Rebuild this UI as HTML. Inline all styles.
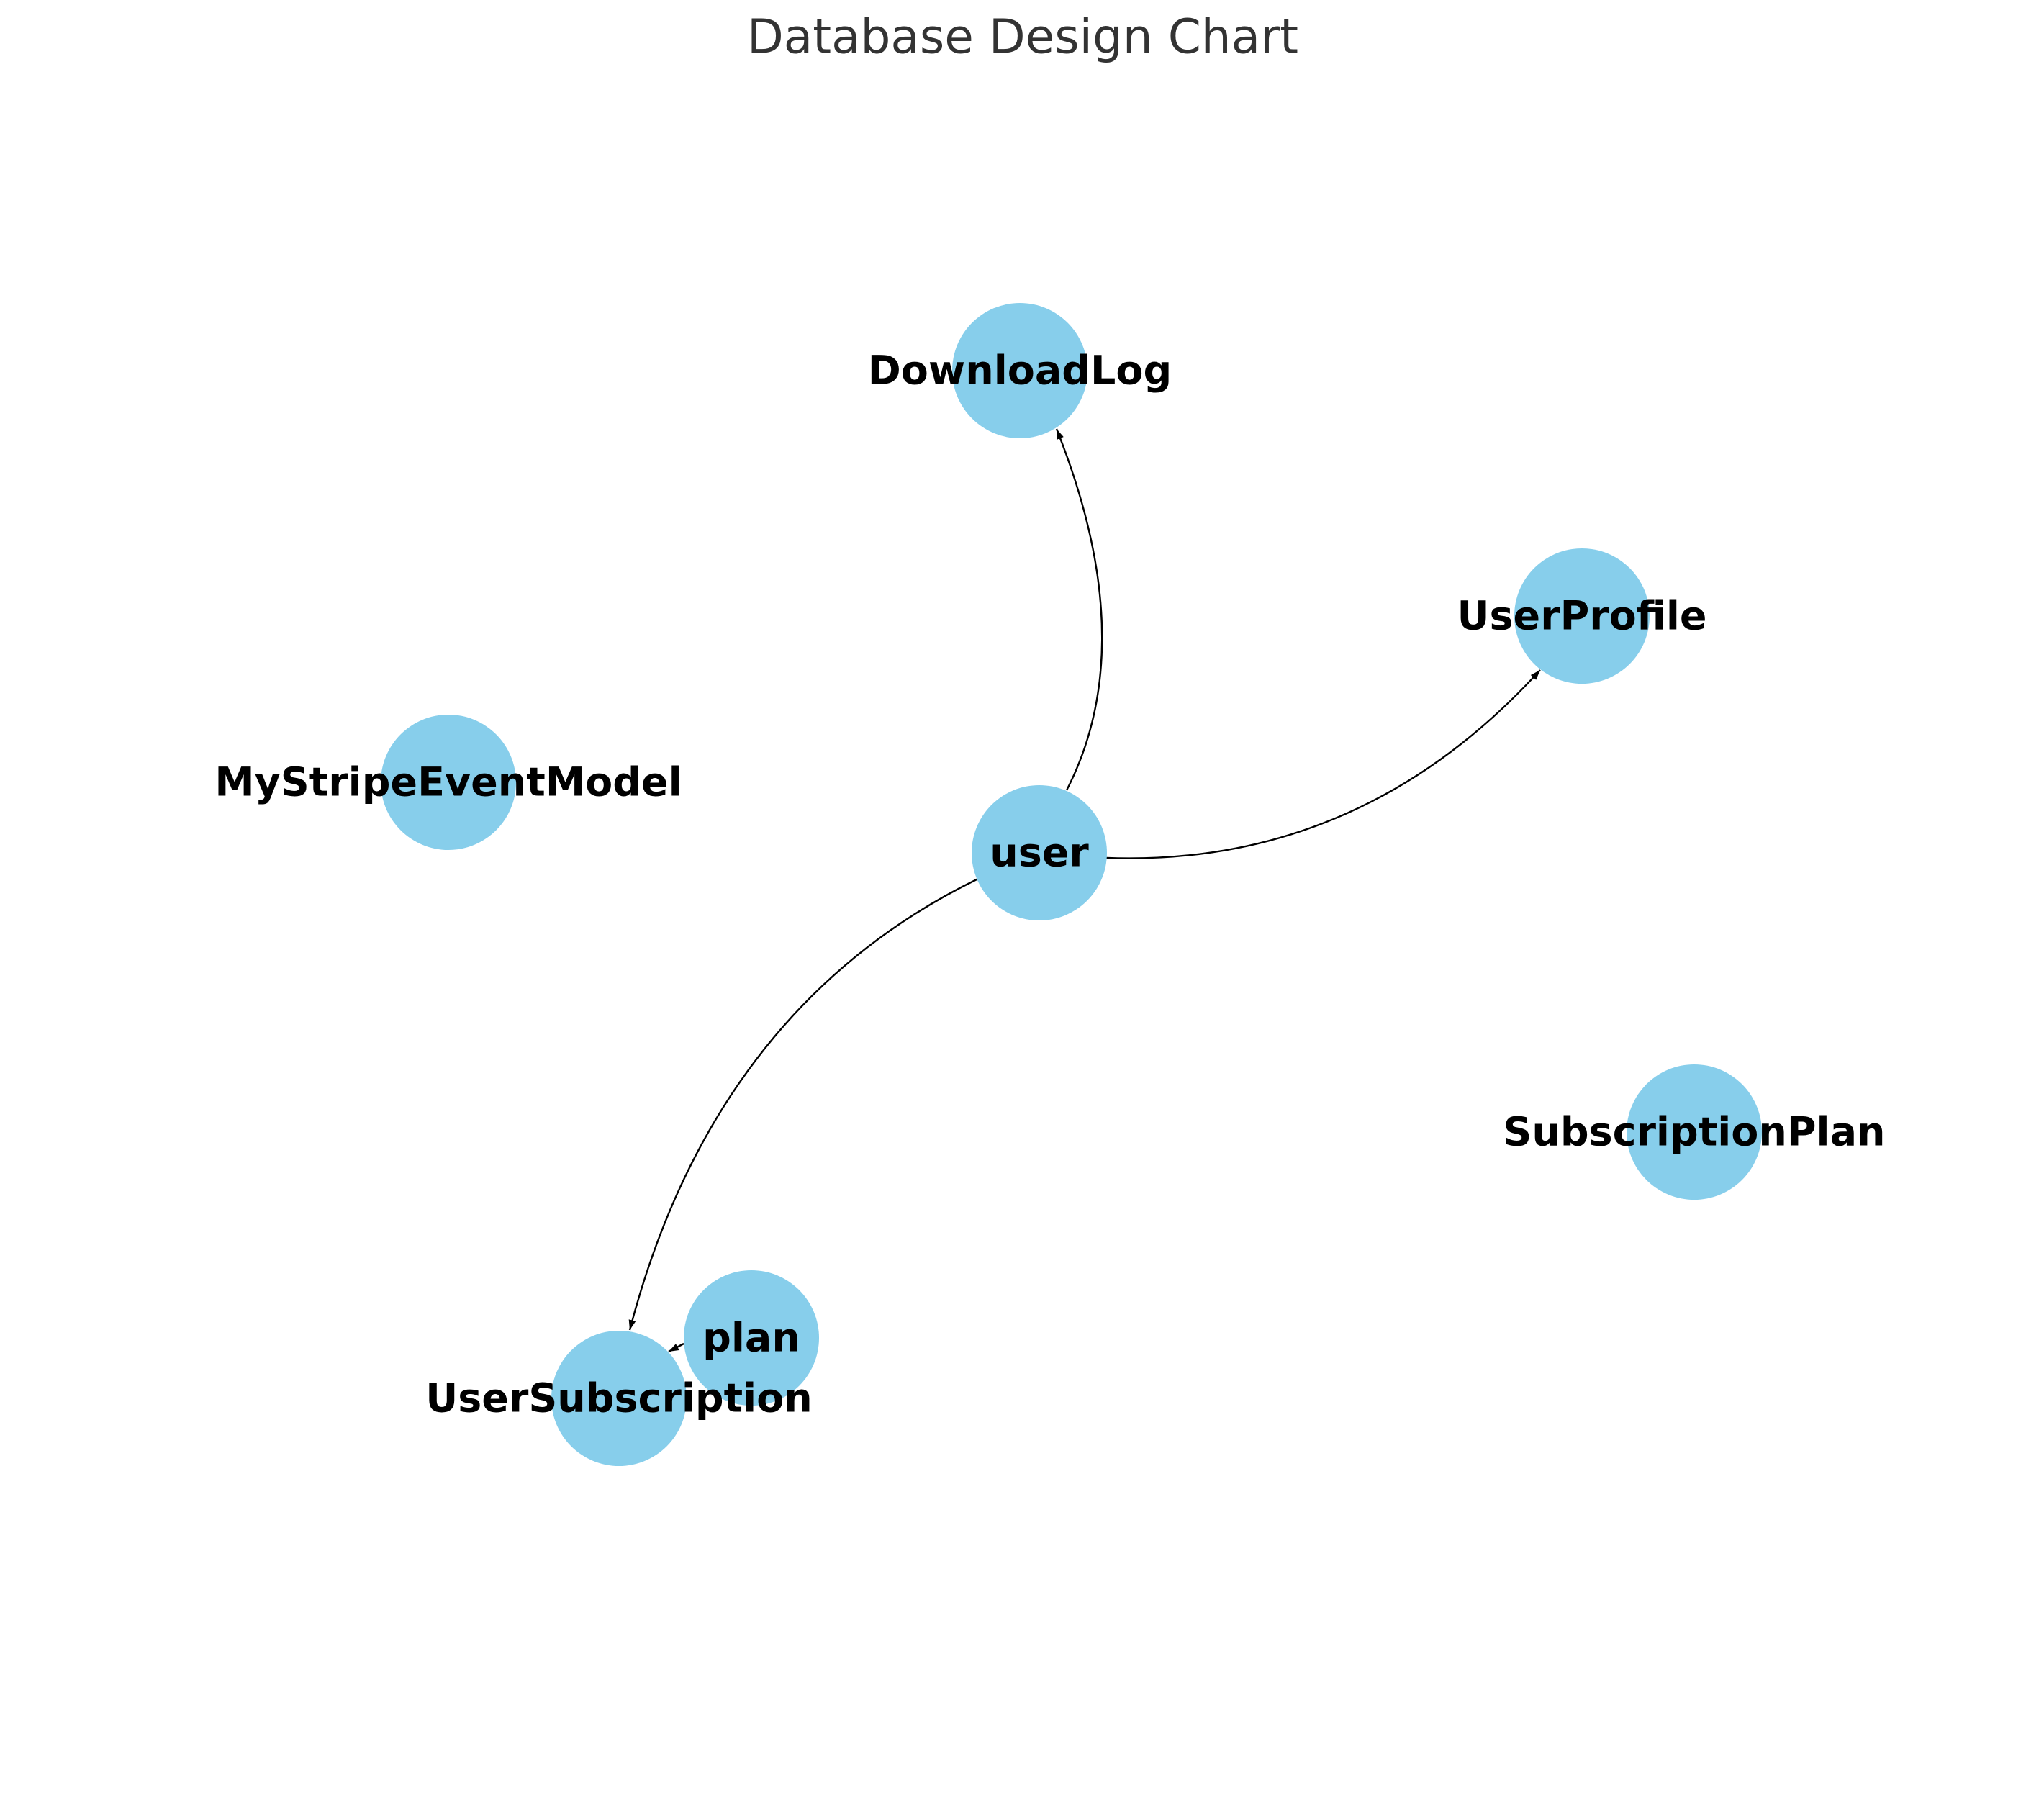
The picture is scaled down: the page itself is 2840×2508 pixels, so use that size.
<!DOCTYPE html>
<html><head><meta charset="utf-8"><style>
html,body{margin:0;padding:0;background:#fff;}
svg{display:block;}
.l{font-family:"DejaVu Sans","Liberation Sans",sans-serif;font-weight:bold;font-size:55.5px;fill:#000;text-anchor:middle;dominant-baseline:central;}
</style></head><body>
<svg width="2840" height="2508" viewBox="0 0 2840 2508" xmlns="http://www.w3.org/2000/svg">
<defs>
<marker id="a" markerWidth="14" markerHeight="10" refX="14" refY="5" orient="auto" markerUnits="userSpaceOnUse" viewBox="0 0 14 10">
<path d="M0,0 L14,5 L0,10 z" fill="#000"/>
</marker>
</defs>
<text x="1421" y="51" style="font-family:'DejaVu Sans','Liberation Sans',sans-serif;font-size:66px;fill:#333;text-anchor:middle;dominant-baseline:central;">Database Design Chart</text>
<g fill="none" stroke="#000" stroke-width="2.4">
<path d="M1482,1098 Q1587,894 1468,596" marker-end="url(#a)"/>
<path d="M1537,1192 Q1890,1205 2140,931" marker-end="url(#a)"/>
<path d="M1359,1221 Q992,1400 875,1848" marker-end="url(#a)"/>
<path d="M950,1867 L929,1878" marker-end="url(#a)"/>
</g>
<g fill="#87ceeb">
<circle cx="1417" cy="515" r="94"/>
<circle cx="2198" cy="856" r="94"/>
<circle cx="623" cy="1087" r="94"/>
<circle cx="1444" cy="1185" r="94"/>
<circle cx="2354" cy="1573" r="94"/>
<circle cx="1044" cy="1859" r="94"/>
<circle cx="860" cy="1943" r="94"/>
</g>
<text class="l" x="1417" y="515">DownloadLog</text>
<text class="l" x="2198" y="856">UserProfile</text>
<text class="l" x="623" y="1087">MyStripeEventModel</text>
<text class="l" x="1444" y="1185">user</text>
<text class="l" x="2354" y="1573">SubscriptionPlan</text>
<text class="l" x="1044" y="1859">plan</text>
<text class="l" x="860" y="1943">UserSubscription</text>
</svg>
</body></html>
